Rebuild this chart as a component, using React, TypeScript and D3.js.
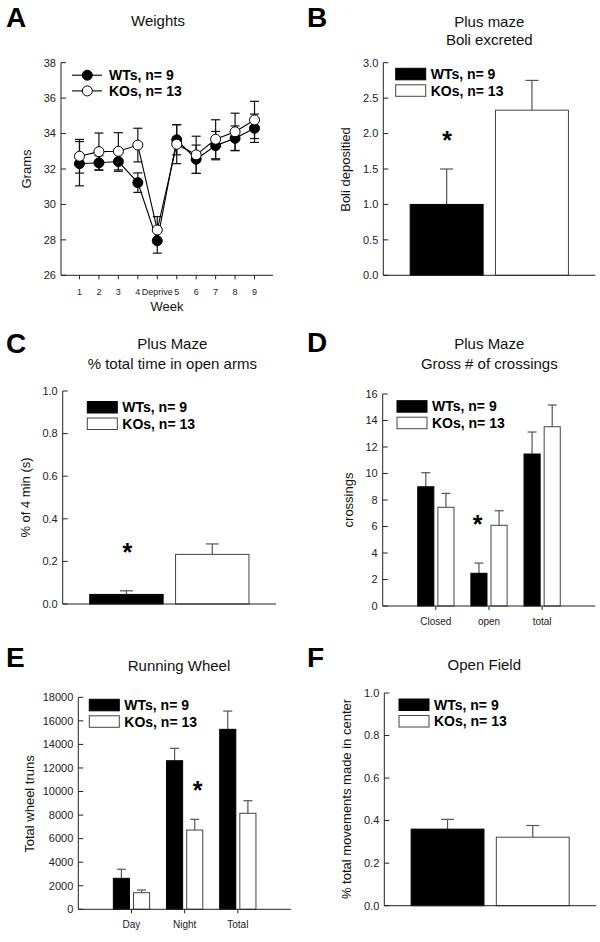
import React from "react";
import * as d3 from "d3";

// ---------- DATA ----------
const groups = ["WTs, n= 9", "KOs, n= 13"];

// A: Weights
const weekLabels = ["1", "2", "3", "4", "Deprive", "5", "6", "7", "8", "9"];
const wtWeight = [32.3, 32.35, 32.42, 31.23, 27.95, 33.65, 32.55, 33.32, 33.73, 34.3];
const wtWeightErr = [1.25, 0.4, 0.55, 0.55, 0.7, 0.85, 0.8, 0.8, 0.7, 0.8];
const koWeight = [32.72, 32.98, 33.0, 33.35, 28.56, 33.4, 32.8, 33.68, 34.1, 34.77];
const koWeightErr = [0.95, 1.05, 1.05, 0.95, 0.75, 1.1, 1.05, 1.1, 1.05, 1.05];
const weightTicks = [26, 28, 30, 32, 34, 36, 38];

// B: Boli
const boliMean = [1.0, 2.33];
const boliErr = [0.5, 0.42];
const boliTicks = [0, 0.5, 1.0, 1.5, 2.0, 2.5, 3.0];

// C: open arms
const openArmMean = [0.045, 0.233];
const openArmErr = [0.017, 0.049];
const unitTicks = [0, 0.2, 0.4, 0.6, 0.8, 1.0];

// D: crossings
const crossCats = ["Closed", "open", "total"];
const wtCross = [9.0, 2.47, 11.47];
const wtCrossErr = [1.06, 0.77, 1.66];
const koCross = [7.45, 6.09, 13.53];
const koCrossErr = [1.05, 1.1, 1.64];
const crossTicks = [0, 2, 4, 6, 8, 10, 12, 14, 16];

// E: running wheel
const wheelCats = ["Day", "Night", "Total"];
const wtWheel = [2630, 12615, 15280];
const wtWheelErr = [770, 1050, 1550];
const koWheel = [1410, 6730, 8150];
const koWheelErr = [230, 910, 1070];
const wheelTicks = [0, 2000, 4000, 6000, 8000, 10000, 12000, 14000, 16000, 18000];

// F: open field
const centerMean = [0.36, 0.322];
const centerErr = [0.046, 0.055];

// ---------- STYLE ----------
const FONT = "'Liberation Sans', Arial, Helvetica, sans-serif";
const AXIS = "#222";
const ERR = "#555";
const BAR_EDGE = "#444";

type Frame = { x0: number; x1: number; y0: number; y1: number };

function fmt(v: number, dec: number) {
  return dec > 0 ? v.toFixed(dec) : String(v);
}

function YAxis({ f, y, ticks, dec }: { f: Frame; y: d3.ScaleLinear<number, number>; ticks: number[]; dec: number }) {
  return (
    <g>
      <line x1={f.x0} x2={f.x0} y1={f.y0} y2={f.y1} stroke={AXIS} strokeWidth={1} />
      <line x1={f.x0} x2={f.x1} y1={f.y0} y2={f.y0} stroke={AXIS} strokeWidth={1} />
      {ticks.map((t) => (
        <g key={t}>
          <line x1={f.x0} x2={f.x0 + 5} y1={y(t)} y2={y(t)} stroke={AXIS} strokeWidth={1} />
          <text x={f.x0 - 5} y={y(t)} dy="0.35em" textAnchor="end" fontSize={11} fill="#222" fontFamily={FONT}>
            {fmt(t, dec)}
          </text>
        </g>
      ))}
    </g>
  );
}

function Titles({ letter, lx, ly, lines, cx, ys }: { letter: string; lx: number; ly: number; lines: string[]; cx: number; ys: number[] }) {
  return (
    <g fontFamily={FONT}>
      <text x={lx} y={ly} fontSize={28} fontWeight="bold" fill="#000">{letter}</text>
      {lines.map((l, i) => (
        <text key={i} x={cx} y={ys[i]} fontSize={15} textAnchor="middle" fill="#111">{l}</text>
      ))}
    </g>
  );
}

function YLabel({ x, y, text }: { x: number; y: number; text: string }) {
  return (
    <text transform={`translate(${x},${y}) rotate(-90)`} textAnchor="middle" dy="0.35em" fontSize={13} fill="#111" fontFamily={FONT}>
      {text}
    </text>
  );
}

function BarLegend({ x, y }: { x: number; y: number }) {
  return (
    <g fontFamily={FONT}>
      {groups.map((g, i) => (
        <g key={g}>
          <rect x={x} y={y + i * 16.5} width={30} height={11.5} fill={i === 0 ? "#000" : "#fff"} stroke={i === 0 ? "#000" : BAR_EDGE} strokeWidth={1} />
          <text x={x + 35} y={y + i * 16.5 + 5.75} dy="0.36em" fontSize={14} fontWeight="bold" fill="#000">{g}</text>
        </g>
      ))}
    </g>
  );
}

function Star({ x, y }: { x: number; y: number }) {
  return (
    <text x={x} y={y} textAnchor="middle" fontSize={25} fontWeight="bold" fontFamily={FONT} fill="#000">*</text>
  );
}

// Two-bar panel (B, C, F)
function TwoBar({ f, domain, ticks, dec, means, errs }: { f: Frame; domain: [number, number]; ticks: number[]; dec: number; means: number[]; errs: number[] }) {
  const y = d3.scaleLinear().domain(domain).range([f.y0, f.y1]);
  const x = d3.scaleBand<string>().domain(groups).range([f.x0, f.x1]).paddingInner(0.145).paddingOuter(0.315);
  const cap = 13;
  return (
    <g>
      {groups.map((g, i) => {
        const bx = x(g)!;
        const cx = bx + x.bandwidth() / 2;
        return (
          <g key={g}>
            <line x1={cx} x2={cx} y1={y(means[i])} y2={y(means[i] + errs[i])} stroke={ERR} strokeWidth={1.2} />
            <line x1={cx - cap / 2} x2={cx + cap / 2} y1={y(means[i] + errs[i])} y2={y(means[i] + errs[i])} stroke={ERR} strokeWidth={1.2} />
            <rect x={bx} y={y(means[i])} width={x.bandwidth()} height={y(domain[0]) - y(means[i])} fill={i === 0 ? "#000" : "#fff"} stroke={i === 0 ? "#000" : BAR_EDGE} strokeWidth={1} />
          </g>
        );
      })}
      <YAxis f={f} y={y} ticks={ticks} dec={dec} />
    </g>
  );
}

// Grouped bar panel (D, E)
function GroupBar({ f, domain, ticks, cats, wt, wtErr, ko, koErr }: { f: Frame; domain: [number, number]; ticks: number[]; cats: string[]; wt: number[]; wtErr: number[]; ko: number[]; koErr: number[] }) {
  const y = d3.scaleLinear().domain(domain).range([f.y0, f.y1]);
  const x = d3.scaleBand<string>().domain(cats).range([f.x0, f.x1]).paddingInner(0).paddingOuter(0.5);
  const sub = d3.scaleBand<string>().domain(groups).range([0, x.bandwidth()]).paddingInner(0.2).paddingOuter(0.42);
  const cap = 9;
  return (
    <g fontFamily={FONT}>
      {cats.map((c, ci) => (
        <g key={c}>
          {groups.map((g, gi) => {
            const v = gi === 0 ? wt[ci] : ko[ci];
            const e = gi === 0 ? wtErr[ci] : koErr[ci];
            const bx = x(c)! + sub(g)!;
            const cx = bx + sub.bandwidth() / 2;
            return (
              <g key={g}>
                <line x1={cx} x2={cx} y1={y(v)} y2={y(v + e)} stroke={ERR} strokeWidth={1.2} />
                <line x1={cx - cap / 2} x2={cx + cap / 2} y1={y(v + e)} y2={y(v + e)} stroke={ERR} strokeWidth={1.2} />
                <rect x={bx} y={y(v)} width={sub.bandwidth()} height={y(domain[0]) - y(v)} fill={gi === 0 ? "#000" : "#fff"} stroke={gi === 0 ? "#000" : BAR_EDGE} strokeWidth={1} />
              </g>
            );
          })}
          <line x1={x(c)! + x.bandwidth() / 2} x2={x(c)! + x.bandwidth() / 2} y1={f.y0} y2={f.y0 + 4} stroke={AXIS} />
          <text x={x(c)! + x.bandwidth() / 2} y={f.y0 + 19} textAnchor="middle" fontSize={10} fill="#222">{c}</text>
        </g>
      ))}
      <YAxis f={f} y={y} ticks={ticks} dec={0} />
    </g>
  );
}

function WeightPanel({ f }: { f: Frame }) {
  const y = d3.scaleLinear().domain([26, 38]).range([f.y0, f.y1]);
  const x = d3.scalePoint<string>().domain(weekLabels).range([f.x0, f.x1]).padding(0.95);
  const line = d3.line<number>().x((_, i) => x(weekLabels[i])!).y((d) => y(d));
  const series = [
    { m: wtWeight, e: wtWeightErr, fill: "#000" },
    { m: koWeight, e: koWeightErr, fill: "#fff" },
  ];
  const cap = 9;
  return (
    <g fontFamily={FONT}>
      {series.map((s, si) => (
        <g key={si}>
          {s.m.map((v, i) => {
            const cx = x(weekLabels[i])!;
            return (
              <g key={i}>
                <line x1={cx} x2={cx} y1={y(v - s.e[i])} y2={y(v + s.e[i])} stroke="#111" strokeWidth={1.2} />
                <line x1={cx - cap / 2} x2={cx + cap / 2} y1={y(v + s.e[i])} y2={y(v + s.e[i])} stroke="#111" strokeWidth={1.2} />
                <line x1={cx - cap / 2} x2={cx + cap / 2} y1={y(v - s.e[i])} y2={y(v - s.e[i])} stroke="#111" strokeWidth={1.2} />
              </g>
            );
          })}
        </g>
      ))}
      {series.map((s, si) => (
        <g key={si}>
          <path d={line(s.m)!} fill="none" stroke="#000" strokeWidth={1.1} />
          {s.m.map((v, i) => (
            <circle key={i} cx={x(weekLabels[i])!} cy={y(v)} r={5} fill={s.fill} stroke="#000" strokeWidth={1} />
          ))}
        </g>
      ))}
      <YAxis f={f} y={y} ticks={weightTicks} dec={0} />
      {weekLabels.map((w) => (
        <g key={w}>
          <line x1={x(w)!} x2={x(w)!} y1={f.y0} y2={f.y0 + 4} stroke={AXIS} />
          <text x={x(w)!} y={f.y0 + 20} textAnchor="middle" fontSize={9} fill="#222">{w}</text>
        </g>
      ))}
      <text x={(f.x0 + f.x1) / 2} y={f.y0 + 36} textAnchor="middle" fontSize={13} fill="#111">Week</text>
      {series.map((s, si) => (
        <g key={si}>
          <line x1={f.x0 + 11} x2={f.x0 + 41} y1={f.y1 + 12.5 + si * 15.7} y2={f.y1 + 12.5 + si * 15.7} stroke="#000" strokeWidth={1.1} />
          <circle cx={f.x0 + 26.3} cy={f.y1 + 12.5 + si * 15.7} r={5} fill={s.fill} stroke="#000" />
          <text x={f.x0 + 48} y={f.y1 + 12.5 + si * 15.7} dy="0.36em" fontSize={14} fontWeight="bold" fill="#000">{groups[si]}</text>
        </g>
      ))}
    </g>
  );
}

export default function App() {
  const fA: Frame = { x0: 61, x1: 273, y0: 275.3, y1: 62.7 };
  const fB: Frame = { x0: 383.3, x1: 595.3, y0: 275.3, y1: 62.7 };
  const fC: Frame = { x0: 62.7, x1: 276, y0: 604, y1: 391 };
  const fD: Frame = { x0: 382.7, x1: 595.3, y0: 606, y1: 394 };
  const fE: Frame = { x0: 78.3, x1: 291, y0: 909.3, y1: 697.3 };
  const fF: Frame = { x0: 384.3, x1: 596, y0: 905.7, y1: 693 };
  return (
    <svg width={600} height={942} style={{ position: "absolute", left: 0, top: 0, background: "#fff" }} fontFamily={FONT}>
      <rect x={0} y={0} width={600} height={942} fill="#fff" />

      <Titles letter="A" lx={6} ly={27} lines={["Weights"]} cx={158} ys={[25.5]} />
      <YLabel x={26.7} y={169} text="Grams" />
      <WeightPanel f={fA} />

      <Titles letter="B" lx={307} ly={27} lines={["Plus maze", "Boli excreted"]} cx={489.3} ys={[26.5, 44.5]} />
      <YLabel x={345.7} y={169.5} text="Boli depositied" />
      <TwoBar f={fB} domain={[0, 3]} ticks={boliTicks} dec={1} means={boliMean} errs={boliErr} />
      <BarLegend x={395.7} y={68.3} />
      <Star x={447} y={149} />

      <Titles letter="C" lx={6} ly={352.5} lines={["Plus Maze", "% total time in open arms"]} cx={172.3} ys={[349, 369]} />
      <YLabel x={25} y={497.5} text="% of 4 min (s)" />
      <TwoBar f={fC} domain={[0, 1]} ticks={unitTicks} dec={1} means={openArmMean} errs={openArmErr} />
      <BarLegend x={87.3} y={401.5} />
      <Star x={127.3} y={560.5} />

      <Titles letter="D" lx={307} ly={352} lines={["Plus Maze", "Gross # of crossings"]} cx={489.3} ys={[349, 369]} />
      <YLabel x={348.3} y={500} text="crossings" />
      <GroupBar f={fD} domain={[0, 16]} ticks={crossTicks} cats={crossCats} wt={wtCross} wtErr={wtCrossErr} ko={koCross} koErr={koCrossErr} />
      <BarLegend x={397} y={400.7} />
      <Star x={477.7} y={532.5} />

      <Titles letter="E" lx={6} ly={666.7} lines={["Running Wheel"]} cx={179} ys={[670.7]} />
      <YLabel x={29.3} y={804} text="Total wheel truns" />
      <GroupBar f={fE} domain={[0, 18000]} ticks={wheelTicks} cats={wheelCats} wt={wtWheel} wtErr={wtWheelErr} ko={koWheel} koErr={koWheelErr} />
      <BarLegend x={89.3} y={699.3} />
      <Star x={197.7} y={799} />

      <Titles letter="F" lx={307} ly={666.7} lines={["Open Field"]} cx={484.3} ys={[670]} />
      <YLabel x={346.7} y={799} text="% total movements made in center" />
      <TwoBar f={fF} domain={[0, 1]} ticks={unitTicks} dec={1} means={centerMean} errs={centerErr} />
      <BarLegend x={399} y={699} />
    </svg>
  );
}
